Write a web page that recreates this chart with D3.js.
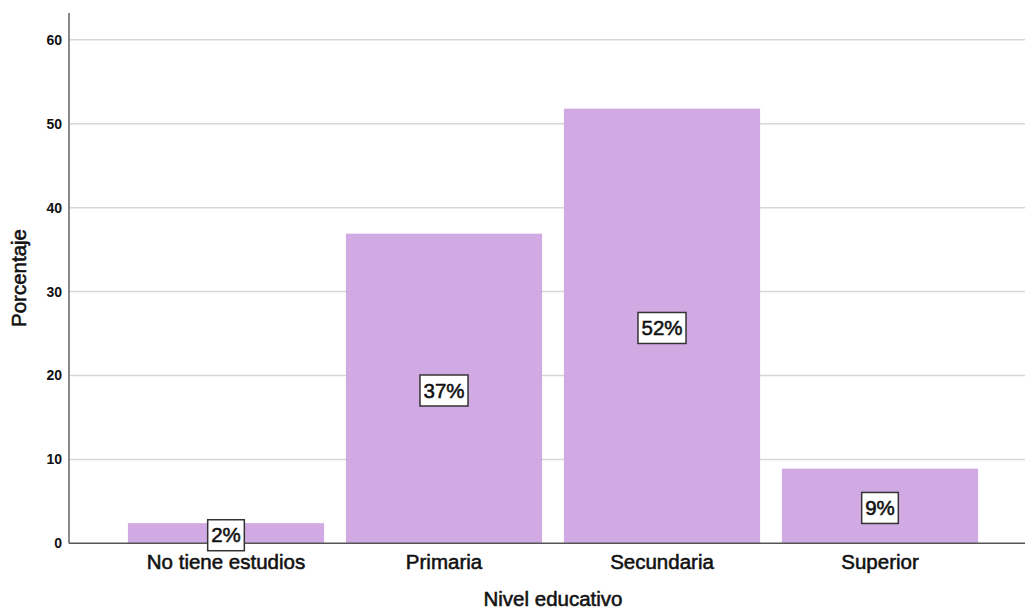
<!DOCTYPE html>
<html>
<head>
<meta charset="utf-8">
<script src="https://cdn.jsdelivr.net/npm/d3@7"></script>
<style>
  html, body { margin: 0; padding: 0; background: #fff; }
  svg { display: block; font-family: "Liberation Sans", Arial, sans-serif; }
  .heavy { stroke: #111; stroke-width: 0.55px; paint-order: stroke; }
</style>
</head>
<body>
<svg id="chart" width="1025" height="611"></svg>
<script>
// Nivel educativo — porcentaje por categoría
const categories = ["No tiene estudios", "Primaria", "Secundaria", "Superior"];
const percentages = [2.4, 36.9, 51.8, 8.9];
const yTicks = [0, 10, 20, 30, 40, 50, 60];
const yMax = 63.2;
const xTitle = "Nivel educativo";
const yTitle = "Porcentaje";

const svg = d3.select("#chart");
const W = 1025;
const axisX = 69;

const x = d3.scaleBand()
  .domain(categories)
  .range([117, 989])
  .paddingInner(0.1)
  .paddingOuter(0.05);

const y = d3.scaleLinear()
  .domain([0, yMax])
  .range([543.3, 13]);

// Horizontal grid lines
svg.append("g")
  .selectAll("line")
  .data(yTicks.filter(t => t > 0))
  .join("line")
  .attr("x1", axisX)
  .attr("x2", W)
  .attr("y1", d => y(d))
  .attr("y2", d => y(d))
  .attr("stroke", "#d6d6d6")
  .attr("stroke-width", 1.5);

// Bars
svg.append("g")
  .selectAll("rect")
  .data(categories)
  .join("rect")
  .attr("x", d => x(d))
  .attr("width", x.bandwidth())
  .attr("y", (d, i) => y(percentages[i]))
  .attr("height", (d, i) => y(0) - y(percentages[i]))
  .attr("fill", "#d1aae4");

// Y axis (labels only, line drawn separately)
const yAxis = d3.axisLeft(y).tickValues(yTicks).tickSize(0).tickPadding(7).tickFormat(d3.format("d"));
const gy = svg.append("g").attr("transform", `translate(${axisX},0)`).call(yAxis);
gy.select(".domain").remove();
gy.selectAll("text")
  .attr("font-family", "'Liberation Sans', Arial, sans-serif")
  .attr("font-size", 14)
  .attr("font-weight", "bold")
  .attr("fill", "#111");

// Axis lines
svg.append("line")
  .attr("x1", axisX).attr("x2", axisX)
  .attr("y1", y(yMax)).attr("y2", y(0))
  .attr("stroke", "#8a8a8a").attr("stroke-width", 2);
svg.append("line")
  .attr("x1", axisX).attr("x2", W)
  .attr("y1", y(0)).attr("y2", y(0))
  .attr("stroke", "#555").attr("stroke-width", 1.5);

// X axis category labels
const xAxis = d3.axisBottom(x).tickSize(0).tickPadding(0);
const gx = svg.append("g").attr("transform", `translate(0,${y(0)})`).call(xAxis);
gx.select(".domain").remove();
gx.selectAll("text")
  .attr("class", "heavy")
  .attr("dy", null)
  .attr("y", 26)
  .attr("font-family", "'Liberation Sans', Arial, sans-serif")
  .attr("font-size", 20.5)
  .attr("fill", "#111");

// Value labels in boxes at mid-height of each bar
const labels = svg.append("g")
  .selectAll("g")
  .data(categories)
  .join("g")
  .attr("transform", (d, i) => `translate(${x(d) + x.bandwidth() / 2},${y(percentages[i] / 2) + 2})`);

labels.each(function(d, i) {
  const g = d3.select(this);
  const t = g.append("text")
    .attr("class", "heavy")
    .attr("text-anchor", "middle")
    .attr("dy", "0.35em")
    .attr("font-size", 20.5)
    .attr("fill", "#111")
    .text(Math.round(percentages[i]) + "%");
  const bb = t.node().getBBox();
  g.insert("rect", "text")
    .attr("x", -bb.width / 2 - 3.5)
    .attr("y", -15.5)
    .attr("width", bb.width + 7)
    .attr("height", 31)
    .attr("fill", "#fff")
    .attr("stroke", "#333")
    .attr("stroke-width", 1.5);
});

// Axis titles
svg.append("text")
  .attr("class", "heavy")
  .attr("x", (x.range()[0] + x.range()[1]) / 2)
  .attr("y", 606)
  .attr("text-anchor", "middle")
  .attr("font-size", 20.5)
  .attr("fill", "#111")
  .text(xTitle);

svg.append("text")
  .attr("class", "heavy")
  .attr("transform", "translate(26,278) rotate(-90)")
  .attr("text-anchor", "middle")
  .attr("font-size", 20.5)
  .attr("fill", "#111")
  .text(yTitle);
</script>
</body>
</html>
